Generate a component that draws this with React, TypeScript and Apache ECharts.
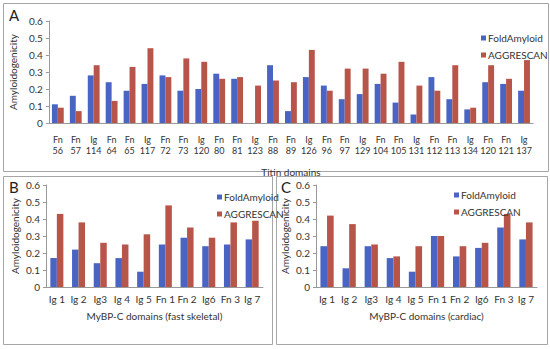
import React, { useEffect, useRef } from "react";
import * as echarts from "echarts";

const titinDomains = ["Fn\n56","Fn\n57","Ig\n114","Fn\n64","Fn\n65","Ig\n117","Fn\n72","Fn\n73","Ig\n120","Fn\n80","Fn\n81","Ig\n123","Fn\n88","Fn\n89","Ig\n126","Fn\n96","Fn\n97","Ig\n129","Fn\n104","Fn\n105","Ig\n131","Fn\n112","Fn\n113","Ig\n134","Fn\n120","Fn\n121","Ig\n137"];
const titinFold = [0.11,0.16,0.28,0.24,0.19,0.23,0.28,0.19,0.20,0.29,0.26,0,0.34,0.07,0.27,0.22,0.14,0.17,0.23,0.12,0.05,0.27,0.14,0.08,0.24,0.23,0.19];
const titinAggr = [0.09,0.07,0.34,0.13,0.33,0.44,0.27,0.38,0.36,0.26,0.27,0.22,0.25,0.24,0.43,0.19,0.32,0.32,0.29,0.36,0.22,0.19,0.34,0.09,0.34,0.26,0.37];

const mybpDomains = ["Ig 1","Ig 2","Ig3","Ig 4","Ig 5","Fn 1","Fn 2","Ig6","Fn 3","Ig 7"];
const skeletalFold = [0.17,0.22,0.14,0.17,0.09,0.25,0.29,0.24,0.25,0.28];
const skeletalAggr = [0.43,0.38,0.26,0.25,0.31,0.48,0.35,0.29,0.38,0.39];
const cardiacFold = [0.24,0.11,0.24,0.17,0.09,0.30,0.18,0.23,0.35,0.28];
const cardiacAggr = [0.42,0.37,0.25,0.18,0.24,0.30,0.24,0.26,0.43,0.38];

const BLUE = "#4a64c4";
const RED = "#b8554a";
const FONT = "Lato";
const TXT = "#333";

export default function App() {
  const ref = useRef<HTMLDivElement>(null);
  useEffect(() => {
    const chart = echarts.init(ref.current!, null, { renderer: "svg" });
    const yAxisBase = (gridIndex: number, nameGap: number) => ({
      type: "value",
      gridIndex,
      min: 0,
      max: 0.6,
      interval: 0.1,
      name: "Amyloidogenicity",
      nameLocation: "middle",
      nameGap,
      nameTextStyle: { fontFamily: FONT, fontSize: 10, color: TXT },
      axisLine: { show: true, lineStyle: { color: "#999" } },
      axisTick: { show: true, length: 3, lineStyle: { color: "#999" } },
      splitLine: { show: false },
      axisLabel: { fontFamily: FONT, fontSize: 10, color: TXT, margin: 6 },
    });
    const xAxisBase = (gridIndex: number, data: string[], name: string, nameGap: number, margin: number, fontSize: number) => ({
      type: "category",
      gridIndex,
      data,
      name,
      nameLocation: "middle",
      nameGap,
      nameTextStyle: { fontFamily: FONT, fontSize: 10, color: TXT },
      axisLine: { show: true, lineStyle: { color: "#999" } },
      axisTick: { show: false },
      axisLabel: { fontFamily: FONT, fontSize, color: TXT, margin, interval: 0, lineHeight: 11 },
    });
    const legendBase = (left: number, top: number) => ({
      orient: "vertical",
      left,
      top,
      icon: "rect",
      itemWidth: 5,
      itemHeight: 5,
      itemGap: 7,
      selectedMode: false,
      textStyle: { fontFamily: FONT, fontSize: 10, color: TXT, padding: [0, 0, 0, -3] },
      data: ["FoldAmyloid", "AGGRESCAN"],
    });
    const bar = (name: string, data: number[], idx: number, color: string, gap: string) => ({
      type: "bar",
      name,
      data,
      xAxisIndex: idx,
      yAxisIndex: idx,
      barGap: "0%",
      barCategoryGap: gap,
      itemStyle: { color },
    });
    chart.setOption({
      animation: false,
      textStyle: { fontFamily: FONT },
      grid: [
        { left: 44, right: 17, top: 21, bottom: 226 },
        { left: 46, width: 217, top: 185, bottom: 62 },
        { left: 316, width: 221, top: 185, bottom: 62 },
      ],
      xAxis: [
        xAxisBase(0, titinDomains, "Titin domains", 44, 11, 9),
        xAxisBase(1, mybpDomains, "MyBP-C domains (fast skeletal)", 24, 6, 10),
        xAxisBase(2, mybpDomains, "MyBP-C domains (cardiac)", 24, 6, 10),
      ],
      yAxis: [yAxisBase(0, 25), yAxisBase(1, 26), yAxisBase(2, 26)],
      legend: [legendBase(476, 28), legendBase(212, 187), legendBase(449, 185)],
      series: [
        bar("FoldAmyloid", titinFold, 0, BLUE, "34%"),
        bar("AGGRESCAN", titinAggr, 0, RED, "34%"),
        bar("FoldAmyloid", skeletalFold, 1, BLUE, "40%"),
        bar("AGGRESCAN", skeletalAggr, 1, RED, "40%"),
        bar("FoldAmyloid", cardiacFold, 2, BLUE, "40%"),
        bar("AGGRESCAN", cardiacAggr, 2, RED, "40%"),
      ],
      graphic: [
        { type: "rect", shape: { x: 3.5, y: 3.5, width: 545, height: 168 }, style: { fill: "none", stroke: "#a6a6a6", lineWidth: 1 }, silent: true },
        { type: "rect", shape: { x: 3.5, y: 176.5, width: 269, height: 168 }, style: { fill: "none", stroke: "#a6a6a6", lineWidth: 1 }, silent: true },
        { type: "rect", shape: { x: 276.5, y: 176.5, width: 271, height: 168 }, style: { fill: "none", stroke: "#a6a6a6", lineWidth: 1 }, silent: true },
        { type: "text", left: 9, top: 7, style: { text: "A", font: `15px ${FONT}`, fill: "#222" } },
        { type: "text", left: 9, top: 179, style: { text: "B", font: `15px ${FONT}`, fill: "#222" } },
        { type: "text", left: 281, top: 179, style: { text: "C", font: `15px ${FONT}`, fill: "#222" } },
      ],
    });
    return () => chart.dispose();
  }, []);
  return <div ref={ref} style={{ width: 550, height: 349, position: "absolute", left: 0, top: 0 }} />;
}
